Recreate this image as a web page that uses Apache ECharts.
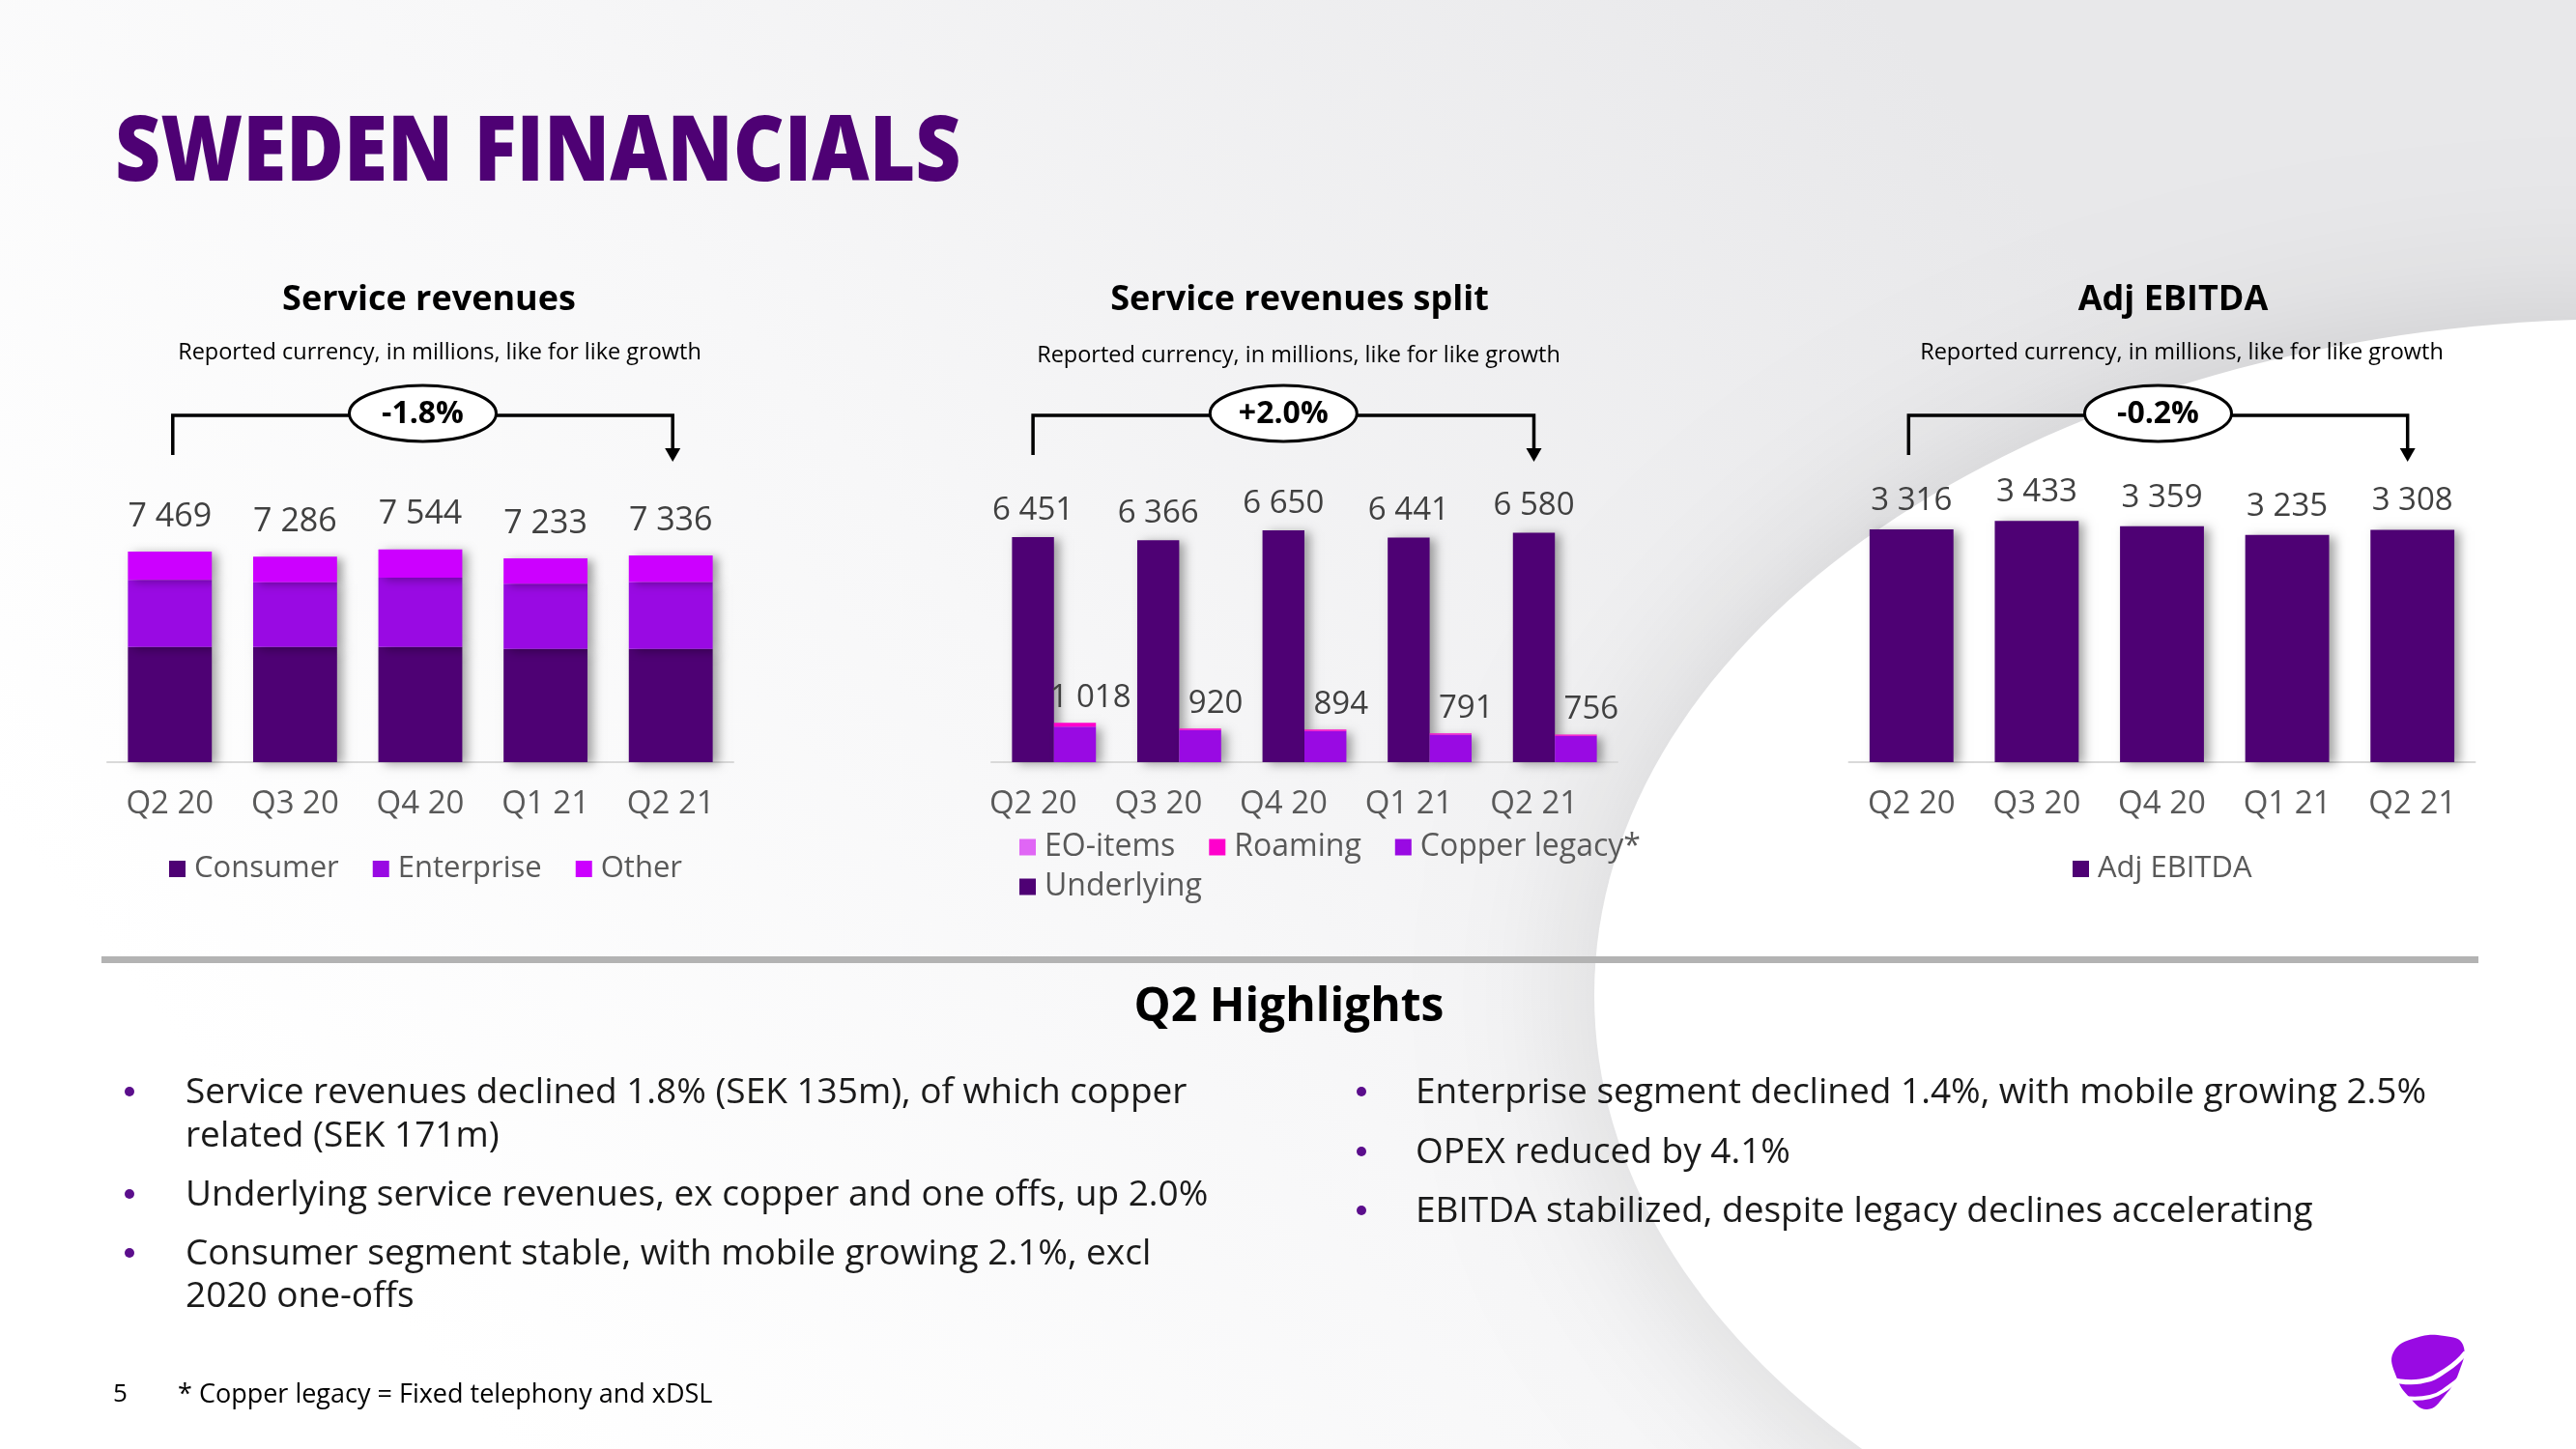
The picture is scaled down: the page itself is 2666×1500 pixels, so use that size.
<!DOCTYPE html>
<html>
<head>
<meta charset="utf-8">
<script src="https://cdn.jsdelivr.net/npm/echarts@6/dist/echarts.min.js"></script>
<style>
html,body{margin:0;padding:0;background:#fff;}
#c{width:2666px;height:1500px;}
</style>
</head>
<body>
<div id="c"></div>
<script>
// ---------- data ----------
const categories = ['Q2 20', 'Q3 20', 'Q4 20', 'Q1 21', 'Q2 21'];
// Service revenues (stacked)
const consumer   = [4087, 4085, 4087, 4015, 4015];
const enterprise = [2384, 2299, 2456, 2316, 2371];
const other      = [998, 902, 1001, 902, 950];
// Service revenues split
const underlying = [6451, 6366, 6650, 6441, 6580];
const copper     = [1018, 920, 894, 791, 756];
const roaming    = [110, 45, 40, 35, 35];
const eoItems    = [0, 0, 0, 0, 0];
// Adj EBITDA
const ebitda     = [3316, 3433, 3359, 3235, 3308];
// growth tags
const growth = ['-1.8%', '+2.0%', '-0.2%'];

const leftBullets = [
  ['Service revenues declined 1.8% (SEK 135m), of which copper', 'related (SEK 171m)'],
  ['Underlying service revenues, ex copper and one offs, up 2.0%'],
  ['Consumer segment stable, with mobile growing 2.1%, excl', '2020 one-offs']
];
const rightBullets = [
  ['Enterprise segment declined 1.4%, with mobile growing 2.5%'],
  ['OPEX reduced by 4.1%'],
  ['EBITDA stabilized, despite legacy declines accelerating']
];

// ---------- style ----------
const FF = "'Open Sans', sans-serif";
const C = {
  deep: '#4E0174', core: '#990AE3', light: '#CC00FF',
  pink: '#FF00CC', eo: '#E066F5', label: '#404040', axis: '#595959'
};
const fmt = n => String(n).replace(/\B(?=(\d{3})+(?!\d))/g, ' ');
const shadow = { shadowColor: 'rgba(0,0,0,0.35)', shadowBlur: 10, shadowOffsetX: 6, shadowOffsetY: 2 };

const chart = echarts.init(document.getElementById('c'), null, { renderer: 'canvas' });

function xAxis(gi, pad) {
  return {
    type: 'category', gridIndex: gi, data: categories,
    axisLine: { lineStyle: { color: '#d9d9d9', width: 2 } },
    axisTick: { show: false },
    axisLabel: { fontSize: 33, color: C.axis, fontFamily: FF, margin: 27, padding: pad || 0 }
  };
}
function yAxis(gi, max) {
  return { type: 'value', gridIndex: gi, min: 0, max: max, show: false };
}
function legend(data, left, top, size) {
  return {
    data: data, left: left, top: top,
    icon: 'rect', itemWidth: 17, itemHeight: 17, itemGap: 35,
    textStyle: { fontSize: size, color: C.axis, fontFamily: FF, padding: [0, 0, 0, 4] },
    itemStyle: { shadowBlur: 0, shadowColor: 'transparent', shadowOffsetX: 0, shadowOffsetY: 0 }
  };
}

const option = {
  animation: false,
  backgroundColor: 'transparent',
  grid: [
    { left: 111, width: 648, top: 555.5, height: 233.5 },
    { left: 1026, width: 648, top: 536.3, height: 252.7 },
    { left: 1913.5, width: 648, top: 534.5, height: 254.5 }
  ],
  xAxis: [xAxis(0), xAxis(1, [0, 43, 0, 0]), xAxis(2)],
  yAxis: [yAxis(0, 8000), yAxis(1, 7000), yAxis(2, 3500)],
  legend: [
    legend(['Consumer', 'Enterprise', 'Other'], 170, 879, 31),
    legend(['EO-items', 'Roaming', 'Copper legacy*'], 1050, 856, 32),
    legend(['Underlying'], 1050, 897, 32),
    legend(['Adj EBITDA'], 2140, 879, 31)
  ],
  series: [
    { name: 'Consumer', type: 'bar', xAxisIndex: 0, yAxisIndex: 0, stack: 'sr', barCategoryGap: '33%',
      data: consumer, itemStyle: Object.assign({ color: C.deep }, shadow) },
    { name: 'Enterprise', type: 'bar', xAxisIndex: 0, yAxisIndex: 0, stack: 'sr',
      data: enterprise, itemStyle: Object.assign({ color: C.core }, shadow) },
    { name: 'Other', type: 'bar', xAxisIndex: 0, yAxisIndex: 0, stack: 'sr',
      data: other, itemStyle: Object.assign({ color: C.light }, shadow),
      label: { show: true, position: 'top', distance: 19, fontSize: 34, color: C.label, fontFamily: FF,
        formatter: p => fmt(consumer[p.dataIndex] + enterprise[p.dataIndex] + other[p.dataIndex]) } },

    { name: 'Underlying', type: 'bar', xAxisIndex: 1, yAxisIndex: 1, barGap: '0%', barCategoryGap: '33%',
      data: underlying, itemStyle: Object.assign({ color: C.deep }, shadow),
      label: { show: true, position: 'top', distance: 11, fontSize: 33, color: C.label, fontFamily: FF,
        formatter: p => fmt(p.value) } },
    { name: 'Copper legacy*', type: 'bar', xAxisIndex: 1, yAxisIndex: 1, stack: 'split', barGap: '0%',
      data: copper, itemStyle: Object.assign({ color: C.core }, shadow) },
    { name: 'Roaming', type: 'bar', xAxisIndex: 1, yAxisIndex: 1, stack: 'split',
      data: roaming, itemStyle: { color: C.pink },
      label: { show: true, position: 'top', distance: 9, offset: [16, 0], fontSize: 33, color: C.label, fontFamily: FF,
        formatter: p => fmt(copper[p.dataIndex]) } },
    { name: 'EO-items', type: 'bar', xAxisIndex: 1, yAxisIndex: 1, stack: 'split',
      data: eoItems, itemStyle: { color: C.eo } },

    { name: 'Adj EBITDA', type: 'bar', xAxisIndex: 2, yAxisIndex: 2, barCategoryGap: '33%',
      data: ebitda, itemStyle: Object.assign({ color: C.deep }, shadow),
      label: { show: true, position: 'top', distance: 13, fontSize: 33, color: C.label, fontFamily: FF,
        formatter: p => fmt(p.value) } }
  ]
};
chart.setOption(option);

// ---------- decorations ----------
const G = [];
// background
G.push({ type: 'rect', z: -100, silent: true, shape: { x: 0, y: 0, width: 2666, height: 1500 },
  style: { fill: { type: 'linear', x: 0.15, y: 0.9, x2: 0.75, y2: 0.05,
    colorStops: [{ offset: 0, color: '#ffffff' }, { offset: 0.45, color: '#f7f7f8' }, { offset: 1, color: '#e8e8ea' }] } } });
G.push({ type: 'ellipse', z: -90, silent: true, shape: { cx: 2720, cy: 1030, rx: 1070, ry: 700 },
  style: { fill: '#ffffff', shadowBlur: 160, shadowColor: 'rgba(0,0,0,0.13)' } });

// main title
G.push({ type: 'text', x: 119, y: 160, scaleX: 0.87, z: 10,
  style: { text: 'SWEDEN FINANCIALS', fill: C.deep, font: "800 94px " + FF, textVerticalAlign: 'middle' } });

// chart titles
const titles = [
  ['Service revenues', 444, 'Reported currency, in millions, like for like growth', 455, 365],
  ['Service revenues split', 1345, 'Reported currency, in millions, like for like growth', 1344, 368],
  ['Adj EBITDA', 2249, 'Reported currency, in millions, like for like growth', 2258, 365]
];
titles.forEach(t => {
  G.push({ type: 'text', x: t[1], y: 311, z: 10, style: { text: t[0], fill: '#000', font: "700 36px " + FF, textAlign: 'center', textVerticalAlign: 'middle' } });
  G.push({ type: 'text', x: t[3], y: t[4], z: 10, style: { text: t[2], fill: '#000', font: "23.5px " + FF, textAlign: 'center', textVerticalAlign: 'middle' } });
});

// growth brackets aligned on bars
function px(ai, cat) { return chart.convertToPixel({ xAxisIndex: ai }, cat); }
const band = px(1, categories[1]) - px(1, categories[0]);
const subOff = -(band * 0.67 / 2) / 2;
const ends = [
  [px(0, categories[0]) + 3, px(0, categories[4]) + 2],
  [px(1, categories[0]) + subOff, px(1, categories[4]) + subOff],
  [px(2, categories[0]) - 3, px(2, categories[4]) - 5]
];
ends.forEach((e, i) => {
  const xL = e[0], xR = e[1], hy = 430, cx = (xL + xR) / 2;
  G.push({ type: 'polyline', z: 10, shape: { points: [[xL, 471], [xL, hy], [xR, hy], [xR, 466]] },
    style: { stroke: '#000', lineWidth: 3.5, fill: null } });
  G.push({ type: 'polygon', z: 10, shape: { points: [[xR - 8, 464], [xR + 8, 464], [xR, 478]] }, style: { fill: '#000' } });
  G.push({ type: 'ellipse', z: 11, shape: { cx: cx, cy: 428, rx: 76, ry: 29 }, style: { fill: '#fff', stroke: '#000', lineWidth: 3 } });
  G.push({ type: 'text', x: cx, y: 429, z: 12, style: { text: growth[i], fill: '#000', font: "700 32px " + FF, textAlign: 'center', textVerticalAlign: 'middle' } });
});

// divider
G.push({ type: 'rect', z: 10, shape: { x: 105, y: 990, width: 2460, height: 7 }, style: { fill: '#b3b3b3' } });
G.push({ type: 'text', x: 1334, y: 1043, z: 10, style: { text: 'Q2 Highlights', fill: '#000', font: "700 48px " + FF, textAlign: 'center', textVerticalAlign: 'middle' } });

function bullets(list, bx, tx, ys) {
  let k = 0;
  list.forEach((lines) => {
    G.push({ type: 'circle', z: 10, shape: { cx: bx, cy: ys[k] - 1, r: 5 }, style: { fill: '#5B0E8C' } });
    lines.forEach(line => {
      G.push({ type: 'text', x: tx, y: ys[k], z: 10, style: { text: line, fill: '#1a1a1a', font: "37px " + FF, textVerticalAlign: 'middle' } });
      k++;
    });
  });
}
bullets(leftBullets, 134, 192, [1131, 1176, 1237, 1298, 1342]);
bullets(rightBullets, 1409, 1465, [1131, 1193, 1254]);

// footer
G.push({ type: 'text', x: 117, y: 1444, z: 10, style: { text: '5', fill: '#000', font: "26px " + FF, textVerticalAlign: 'middle' } });
G.push({ type: 'text', x: 184, y: 1444, z: 10, style: { text: '* Copper legacy = Fixed telephony and xDSL', fill: '#000', font: "27px " + FF, textVerticalAlign: 'middle' } });

// logo
G.push({ type: 'polygon', z: 10, shape: { smooth: 0.45, points: [[2477, 1400], [2500, 1385], [2530, 1383], [2549, 1392], [2545, 1420], [2530, 1445], [2512, 1459], [2494, 1447], [2480, 1425]] },
  style: { fill: C.core } });
G.push({ type: 'polyline', z: 11, shape: { smooth: 0.5, points: [[2474, 1428], [2505, 1430], [2532, 1418], [2552, 1400]] },
  style: { stroke: '#fff', lineWidth: 5, fill: null } });
G.push({ type: 'polyline', z: 11, shape: { smooth: 0.5, points: [[2488, 1447], [2515, 1446], [2534, 1436], [2548, 1424]] },
  style: { stroke: '#fff', lineWidth: 4, fill: null } });

chart.setOption({ graphic: { elements: G } });
</script>
</body>
</html>
